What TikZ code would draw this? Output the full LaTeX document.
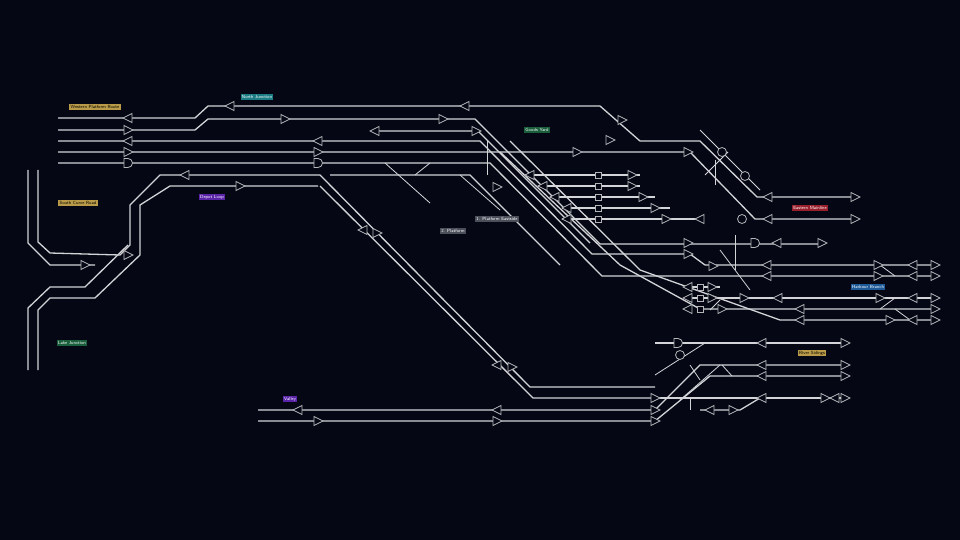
\documentclass[tikz,border=0pt]{standalone}
\usepackage{tikz}
\usetikzlibrary{positioning, arrows.meta}
\usepackage{xcolor}
\definecolor{PanelBg}{HTML}{050814}
\definecolor{TrackGray}{HTML}{D2D4D8}
\definecolor{SigGray}{HTML}{B4B6BA}
\definecolor{TagGold}{HTML}{B89A48}
\definecolor{TagTeal}{HTML}{1C7C84}
\definecolor{TagGreen}{HTML}{1A5E3C}
\definecolor{TagRed}{HTML}{98202C}
\definecolor{TagBlue}{HTML}{1E5A98}
\definecolor{TagPurple}{HTML}{5A24A8}
\definecolor{TagGray}{HTML}{4A4F5A}

\tikzset{
  track/.style={TrackGray, line width=1.3pt},
  thin track/.style={TrackGray, line width=0.8pt},
  sig/.style={SigGray, line width=0.8pt, fill=PanelBg},
  tag/.style={inner sep=1.2pt, font=\fontsize{4.5}{5}\selectfont\sffamily, text=white},
}
\newcommand{\sigR}[2]{\draw[sig] ({#1-4},{#2-4.5}) -- ({#1+5},{#2}) -- ({#1-4},{#2+4.5}) -- cycle;}
\newcommand{\sigL}[2]{\draw[sig] ({#1+4},{#2-4.5}) -- ({#1-5},{#2}) -- ({#1+4},{#2+4.5}) -- cycle;}
\newcommand{\sigD}[2]{\draw[sig] ({#1-4},{#2-4.5}) -- ({#1},{#2-4.5}) arc (-90:90:4.5) -- ({#1-4},{#2+4.5}) -- cycle;}
\newcommand{\sigO}[2]{\draw[sig] ({#1},{#2}) circle (4.5);}
\newcommand{\mkbox}[2]{\draw[sig] ({#1-3},{#2-3}) rectangle ({#1+3},{#2+3});}

\begin{document}
\begin{tikzpicture}[x=1pt, y=-1pt]
  \fill[PanelBg] (0,0) rectangle (960,540);
  \useasboundingbox (0,0) rectangle (960,540);

  % Upper left approach
  \draw[track] (58,118) -- (195,118) -- (208,106) -- (600,106) -- (640,141) -- (700,141) -- (757,197) -- (855,197);
  \draw[track] (58,130) -- (195,130) -- (208,119) -- (475,119) -- (600,244) -- (825,244);
  \draw[track] (58,141) -- (480,141) -- (592,254) -- (690,254) -- (705,265) -- (935,265);
  \draw[track] (58,152) -- (690,152) -- (755,219) -- (855,219);
  \draw[track] (58,163) -- (490,163) -- (602,276) -- (935,276);
  \draw[track] (375,131) -- (478,131) -- (590,243);
  \draw[track] (330,175) -- (470,175) -- (560,265);

  % Short sidings
  \foreach \yy/\xa/\xb in {175/525/640, 186/538/640, 197/550/655, 208/562/670, 219/562/700}
    \draw[track] (\xa,\yy) -- (\xb,\yy);
  \draw[track] (500,152) -- (620,265) -- (700,309) -- (935,309);
  \draw[track] (510,141) -- (640,270) -- (780,320) -- (935,320);
  \draw[track] (690,298) -- (935,298);
  \draw[track] (690,287) -- (720,287);

  % Crossovers upper right
  \draw[thin track] (700,130) -- (760,190);
  \draw[thin track] (705,175) -- (728,152);
  \draw[thin track] (715,160) -- (715,185);
  \draw[thin track] (720,250) -- (750,290);
  \draw[thin track] (735,235) -- (735,270);
  \draw[thin track] (487,141) -- (487,175);
  \draw[thin track] (385,163) -- (430,203);
  \draw[thin track] (460,175) -- (500,210);
  \draw[thin track] (415,175) -- (430,163);
  \draw[thin track] (710,310) -- (720,300);
  \draw[thin track] (880,265) -- (895,276);
  \draw[thin track] (880,309) -- (895,298);
  \draw[thin track] (895,309) -- (910,320);

  % Left loop
  \draw[track] (185,175) -- (160,175) -- (130,205) -- (130,245) -- (120,255) -- (50,253) -- (38,242) -- (38,170);
  \draw[track] (318,186) -- (170,186) -- (140,205) -- (140,255) -- (95,298) -- (50,298) -- (38,310) -- (38,370);
  \draw[track] (28,170) -- (28,243) -- (50,265) -- (95,265);
  \draw[track] (28,370) -- (28,308) -- (50,287) -- (85,287) -- (128,245);
  \draw[track] (185,175) -- (320,175) -- (530,387) -- (655,387);
  \draw[track] (320,186) -- (533,398) -- (655,398);

  % Lower tracks
  \draw[track] (258,410) -- (655,410) -- (700,365) -- (845,365);
  \draw[track] (258,421) -- (655,421) -- (710,376) -- (845,376);
  \draw[track] (655,343) -- (845,343);
  \draw[track] (655,398) -- (700,398) -- (845,398);
  \draw[track] (700,410) -- (740,410) -- (760,398);
  \draw[thin track] (655,375) -- (705,343);
  \draw[thin track] (680,400) -- (720,365);
  \draw[thin track] (690,365) -- (700,380);
  \draw[thin track] (722,365) -- (732,376);
  \draw[thin track] (690,398) -- (690,410);

  % Signals
  \sigL{128}{118} \sigR{128}{130} \sigL{128}{141} \sigR{128}{152} \sigD{128}{163}
  \sigL{230}{106} \sigL{465}{106} \sigR{285}{119} \sigR{443}{119}
  \sigL{318}{141} \sigR{318}{152} \sigD{318}{163} \sigL{375}{131} \sigR{476}{131}
  \sigR{577}{152} \sigR{688}{152} \sigR{497}{187}
  \sigR{622}{120} \sigR{610}{140}
  \foreach \yy/\xa/\xb in {175/530/632, 186/543/632, 197/555/643, 208/567/655, 219/567/666}{
    \sigL{\xa}{\yy} \mkbox{598}{\yy} \sigR{\xb}{\yy}}
  \sigL{700}{219}
  \sigO{722}{152} \sigO{745}{176} \sigO{742}{219}
  \sigL{768}{197} \sigR{855}{197} \sigL{768}{219} \sigR{855}{219}
  \sigR{688}{243} \sigD{755}{243} \sigL{777}{243} \sigR{822}{243} \sigR{688}{254}
  \sigR{713}{266}
  \sigL{767}{265} \sigR{878}{265} \sigL{913}{265} \sigR{935}{265}
  \sigL{767}{276} \sigR{878}{276} \sigL{913}{276} \sigR{935}{276}
  \sigL{688}{287} \mkbox{700}{287} \sigR{712}{287}
  \sigL{688}{298} \mkbox{700}{298} \sigR{712}{298} \sigR{744}{298}
  \sigL{778}{298} \sigR{880}{298} \sigL{913}{298} \sigR{935}{298}
  \sigL{688}{309} \mkbox{700}{309} \sigR{722}{309} \sigL{800}{309} \sigR{935}{309}
  \sigL{800}{320} \sigR{890}{320} \sigL{913}{320} \sigR{935}{320}
  \sigL{185}{175} \sigR{240}{186} \sigR{85}{265} \sigR{128}{255}
  \sigL{363}{230} \sigR{377}{233} \sigL{497}{365} \sigR{512}{367}
  \sigL{298}{410} \sigL{497}{410} \sigR{655}{410} \sigR{318}{421} \sigR{497}{421} \sigR{655}{421}
  \sigD{678}{343} \sigO{680}{355} \sigL{762}{343} \sigR{845}{343}
  \sigL{762}{365} \sigR{845}{365} \sigL{762}{376} \sigR{845}{376}
  \sigR{655}{398} \sigL{762}{398} \sigR{825}{398} \sigL{835}{398} \sigR{845}{398}
  \sigL{710}{410} \sigR{733}{410}

  % Station tags
  \node[tag, fill=TagGold, text=black] (westTag) at (95,107) {Western Platform Route};
  \node[tag, fill=TagTeal] (northTag) at (257,97) {North Junction};
  \node[tag, fill=TagGreen] (yardTag) at (537,130) {Goods Yard};
  \node[tag, fill=TagPurple] (depotTag) at (212,197) {Depot Loop};
  \node[tag, fill=TagGold, text=black] (southTag) at (78,203) {South Curve Road};
  \node[tag, fill=TagGray] (plat1Tag) at (497,219) {1. Platform Eastside};
  \node[tag, fill=TagGray] (plat2Tag) at (453,231) {2. Platform};
  \node[tag, fill=TagRed] (eastTag) at (810,208) {Eastern Mainline};
  \node[tag, fill=TagBlue] (harbourTag) at (868,287) {Harbour Branch};
  \node[tag, fill=TagGold, text=black] (riverTag) at (812,353) {River Sidings};
  \node[tag, fill=TagGreen] (lakeTag) at (72,343) {Lake Junction};
  \node[tag, fill=TagPurple] (valleyTag) at (290,399) {Valley};
\end{tikzpicture}
\end{document}
